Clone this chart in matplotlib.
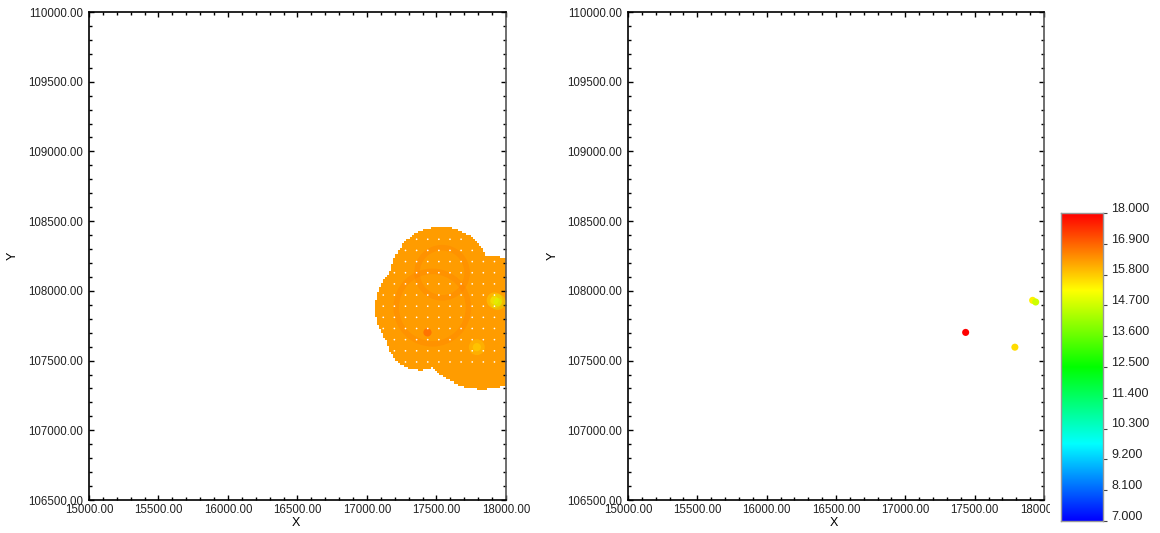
import numpy as np
import matplotlib
matplotlib.use('Agg')
import matplotlib.pyplot as plt
from matplotlib.colors import LinearSegmentedColormap, Normalize
from matplotlib.ticker import MultipleLocator, FormatStrFormatter
from matplotlib.patches import Rectangle, Circle

plt.rcParams['font.family'] = ['Liberation Sans', 'DejaVu Sans']

# circles whose union gives the interpolated area (x, y, radius)
blob_x = [17532, 17424, 17381, 17827]
blob_y = [108100, 107877, 107669, 107777]
blob_r = [360, 366, 237, 481]
blob_level = 16.3

# faint contour rings inside the surface (x, y, radius)
ring_x = [17540, 17470]
ring_y = [108130, 107880]
ring_r = [180, 260]
ring_level = 16.6

# sample points (right panel)
sample_x = [17435, 17790, 17918, 17940]
sample_y = [107702, 107596, 107932, 107920]
sample_z = [18.0, 15.6, 15.4, 14.7]

cbar_ticks = [7.0, 8.1, 9.2, 10.3, 11.4, 12.5, 13.6, 14.7, 15.8, 16.9, 18.0]
vmin, vmax = 7.0, 18.0

cmap = LinearSegmentedColormap.from_list(
    'rb', ['#0000ff', '#00ffff', '#00ff00', '#ffff00', '#ff0000'])
norm = Normalize(vmin, vmax)

W, H = 1160, 533
fig = plt.figure(figsize=(W / 100, H / 100), dpi=100)
ax1 = fig.add_axes([89 / W, 1 - 500 / H, 417 / W, 488 / H])
ax2 = fig.add_axes([628 / W, 1 - 500 / H, 416 / W, 488 / H])
cax = fig.add_axes([1061 / W, 1 - 521 / H, 42 / W, 308 / H])
cax.set_zorder(3)


def in_blob(x, y, shrink=0):
    m = np.zeros(np.shape(x), dtype=bool)
    for cx, cy, r in zip(blob_x, blob_y, blob_r):
        m |= (x - cx) ** 2 + (y - cy) ** 2 < (r - shrink) ** 2
    return m


# left: raster of the interpolated surface
xe = np.arange(16950, 18060, 15)
ye = np.arange(107200, 108560, 15)
xc = (xe[:-1] + xe[1:]) / 2
yc = (ye[:-1] + ye[1:]) / 2
XC, YC = np.meshgrid(xc, yc)
Z = np.ma.masked_where(~in_blob(XC, YC), np.full(XC.shape, blob_level))
ax1.pcolormesh(xe, ye, Z, cmap=cmap, norm=norm, shading='flat')
for cx, cy, r in zip(ring_x, ring_y, ring_r):
    ax1.add_patch(Circle((cx, cy), r, fill=False, lw=4, alpha=0.35,
                         ec=cmap(norm(ring_level)), zorder=2))
# soft highlights around samples
ax1.scatter(sample_x[:1], sample_y[:1], c=sample_z[:1], cmap=cmap, norm=norm,
            s=35, alpha=0.25, edgecolors='none', zorder=3)
ax1.scatter(sample_x[1:], sample_y[1:], c=sample_z[1:], cmap=cmap, norm=norm,
            s=130, alpha=0.3, edgecolors='none', zorder=3)
ax1.scatter(sample_x[1:], sample_y[1:], c=sample_z[1:], cmap=cmap, norm=norm,
            s=35, alpha=0.45, edgecolors='none', zorder=3)
# grid nodes
gx, gy = np.meshgrid(np.arange(17117, 17930, 80), np.arange(107490, 108380, 80))
keep = in_blob(gx, gy, 20)
ax1.scatter(gx[keep], gy[keep], s=1.5, c='white', edgecolors='none', zorder=4)

# right: samples only
ax2.scatter(sample_x, sample_y, c=sample_z, cmap=cmap, norm=norm,
            s=26, edgecolors='none', zorder=3)

for ax in (ax1, ax2):
    ax.set_xlim(15000, 18000)
    ax.set_ylim(106500, 110000)
    ax.xaxis.set_major_locator(MultipleLocator(500))
    ax.xaxis.set_minor_locator(MultipleLocator(100))
    ax.yaxis.set_major_locator(MultipleLocator(500))
    ax.yaxis.set_minor_locator(MultipleLocator(100))
    ax.xaxis.set_major_formatter(FormatStrFormatter('%.2f'))
    ax.yaxis.set_major_formatter(FormatStrFormatter('%.2f'))
    ax.tick_params(which='both', direction='in', top=True, right=True,
                   labelsize=8.3, labelcolor='#222222', width=1)
    ax.tick_params(which='major', length=3.5)
    ax.tick_params(which='minor', length=2)
    ax.tick_params(axis='x', pad=3)
    ax.tick_params(axis='y', pad=4)
    for s in ax.spines.values():
        s.set_linewidth(1.2)
    ax.spines['right'].set_color('#555555')
    ax.set_xlabel('X', fontsize=9, va='center')
    ax.set_ylabel('Y', fontsize=9, va='center')
    ax.xaxis.set_label_coords(0.495, -0.047)
    ax.yaxis.set_label_coords(-0.182, 0.5)

# mask the clipped end of the last tick label, as in the source
fig.patches.append(Rectangle((1050 / W, 0), 1 - 1050 / W, 1 - 500 / H,
                             transform=fig.transFigure, facecolor='white',
                             edgecolor='none', zorder=2))

# colour bar
grad = np.linspace(vmin, vmax, 256).reshape(-1, 1)
cax.imshow(grad, cmap=cmap, norm=norm, origin='lower',
           aspect='auto', extent=[0, 1, vmin, vmax])
cax.set_xticks([])
cax.set_ylim(vmin, vmax)
cax.yaxis.tick_right()
cax.set_yticks(cbar_ticks)
cax.set_yticklabels([])
cax.tick_params(axis='y', direction='out', length=3, width=0.8, color='#444444')
for s in cax.spines.values():
    s.set_color('#999999')
    s.set_linewidth(1)
for v in cbar_ticks:
    cax.annotate('%.3f' % v, xy=(1, v), xycoords=('axes fraction', 'data'),
                 xytext=(6, 3), textcoords='offset points', ha='left',
                 va='center', fontsize=9, color='#222222',
                 annotation_clip=False)

plt.savefig('out.png', dpi=100)
